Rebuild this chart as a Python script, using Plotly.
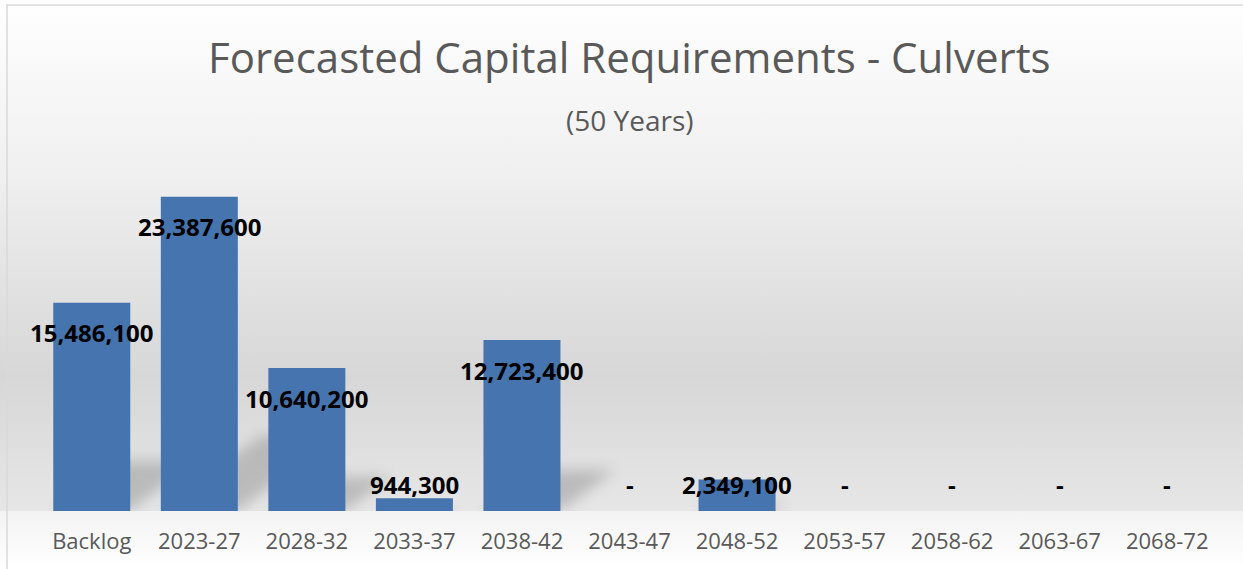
import plotly.graph_objects as go
import urllib.parse

categories = ["Backlog", "2023-27", "2028-32", "2033-37", "2038-42", "2043-47",
              "2048-52", "2053-57", "2058-62", "2063-67", "2068-72"]
values = [15486100, 23387600, 10640200, 944300, 12723400, 0,
          2349100, 0, 0, 0, 0]
title_text = "Forecasted Capital Requirements - Culverts"
subtitle_text = "(50 Years)"

W, H = 1243, 569
L, R, T, B = 38, 22, 175, 58
plot_h = H - T - B
plot_w = W - L - R
YMAX = 25_000_000
units_per_px = YMAX / plot_h
BAR_W = 0.716
n = len(categories)


def fmt(v):
    return "-" if v == 0 else f"{v:,.0f}"


fig = go.Figure()
fig.add_trace(go.Bar(
    x=categories, y=values,
    marker=dict(color="#4674ae", line=dict(width=0)),
    width=BAR_W,
    hoverinfo="skip",
))

# data labels
for c, v in zip(categories, values):
    ly = max(v - 30 * units_per_px, 27 * units_per_px)
    fig.add_annotation(x=c, y=ly, text=fmt(v), showarrow=False,
                       xanchor="center", yanchor="middle",
                       font=dict(family="Open Sans", size=24, color="#000000",
                                 weight="bold"))

# soft perspective shadows of the bars (derived from the data values)
step = plot_w / n
base = T + plot_h
shadow_polys = []
for i, v in enumerate(values):
    if v <= 0:
        continue
    h = v / units_per_px
    x0 = L + (i + 0.5) * step - BAR_W * step / 2
    x1 = x0 + BAR_W * step
    dx, dy = 0.32 * h, 0.24 * h
    pts = [(x0, base), (x1, base), (x1 + dx, base - dy), (x0 + dx, base - dy)]
    shadow_polys.append(
        "<polygon points='" + " ".join(f"{px:.1f},{py:.1f}" for px, py in pts)
        + "' fill='#8a8a8a'/>")

svg = (
    f"<svg xmlns='http://www.w3.org/2000/svg' width='{W}' height='{H}' "
    f"viewBox='0 0 {W} {H}' preserveAspectRatio='none'>"
    "<defs><linearGradient id='g' x1='0' y1='0' x2='0' y2='1'>"
    "<stop offset='0' stop-color='#ffffff'/>"
    "<stop offset='0.30' stop-color='#f0f0f0'/>"
    "<stop offset='0.66' stop-color='#d7d7d7'/>"
    "<stop offset='0.898' stop-color='#e6e6e6'/>"
    "<stop offset='0.899' stop-color='#f3f3f3'/>"
    "<stop offset='1' stop-color='#ffffff'/>"
    "</linearGradient>"
    "<filter id='b' x='-20%' y='-20%' width='140%' height='140%'>"
    "<feGaussianBlur stdDeviation='7'/></filter>"
    f"<clipPath id='c'><rect x='0' y='0' width='{W}' height='{base}'/></clipPath>"
    "</defs>"
    f"<rect x='0' y='0' width='{W}' height='{H}' fill='url(#g)'/>"
    "<g clip-path='url(#c)'><g filter='url(#b)' opacity='0.45'>"
    + "".join(shadow_polys) +
    "</g></g></svg>"
)
src = "data:image/svg+xml;charset=utf-8," + urllib.parse.quote(svg)
fig.add_layout_image(
    source=src, xref="paper", yref="paper",
    x=-L / plot_w, y=1 + T / plot_h,
    sizex=W / plot_w, sizey=H / plot_h,
    xanchor="left", yanchor="top", sizing="stretch", layer="below",
)

# frame
fig.add_shape(type="rect", xref="paper", yref="paper",
              x0=(7 - L) / plot_w, x1=(1250 - L) / plot_w,
              y0=(plot_h + T - 575) / plot_h, y1=(plot_h + T - 5) / plot_h,
              line=dict(color="#d9d9d9", width=1.5), fillcolor="rgba(0,0,0,0)",
              layer="above")

fig.add_annotation(text=title_text, xref="paper", yref="paper",
                   x=0.5, y=1 + (T - 57) / plot_h, showarrow=False,
                   xanchor="center", yanchor="middle",
                   font=dict(family="Open Sans", size=42, color="#595959"))
fig.add_annotation(text=subtitle_text, xref="paper", yref="paper",
                   x=0.5, y=1 + (T - 120) / plot_h, showarrow=False,
                   xanchor="center", yanchor="middle",
                   font=dict(family="Open Sans", size=28, color="#595959"))

fig.update_layout(
    width=W, height=H,
    margin=dict(l=L, r=R, t=T, b=B, pad=0),
    paper_bgcolor="rgba(0,0,0,0)",
    plot_bgcolor="rgba(0,0,0,0)",
    showlegend=False,
    bargap=1 - BAR_W,
    xaxis=dict(showgrid=False, zeroline=False, showline=False, ticks="",
               range=[-0.5, n - 0.5], automargin=False,
               tickfont=dict(family="Open Sans", size=22, color="#595959"),
               ticklabelstandoff=15),
    yaxis=dict(range=[0, YMAX], visible=False, showgrid=False, zeroline=False),
)

fig.write_html(
    "out.html",
    config={"displayModeBar": False},
    post_script="document.body.style.margin='0';document.body.style.overflow='hidden';",
)
